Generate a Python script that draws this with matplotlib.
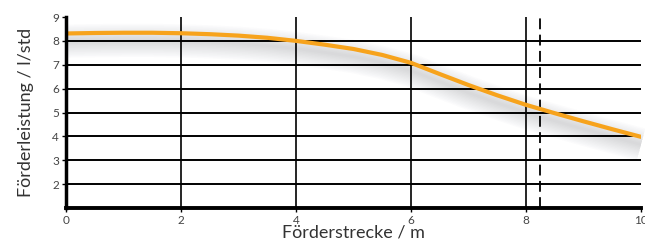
import matplotlib
matplotlib.use("Agg")
import matplotlib.pyplot as plt
import matplotlib.transforms as mtransforms

# data
x_km = [0.0, 0.5, 1.0, 1.5, 2.0, 2.5, 3.0, 3.5, 4.0, 4.5, 5.0,
        5.5, 6.0, 6.5, 7.0, 7.5, 8.0, 8.5, 9.0, 9.5, 10.0]
flow = [8.31, 8.33, 8.34, 8.34, 8.32, 8.28, 8.22, 8.13, 8.00, 7.84, 7.66,
        7.41, 7.08, 6.61, 6.15, 5.72, 5.32, 4.97, 4.63, 4.30, 3.98]
x_ticks = [0, 2, 4, 6, 8, 10]
y_ticks = [2, 3, 4, 5, 6, 7, 8, 9]
marker_x = 8.25

plt.rcParams['font.family'] = ['Lato', 'DejaVu Sans']

fig = plt.figure(figsize=(6.45, 2.46), dpi=100)
ax = fig.add_axes([66/645, 38/246, (641-66)/645, (229-38)/246])
ax.set_xlim(0, 10)
ax.set_ylim(1, 9)

# grid
for yv in y_ticks[:-1]:
    ax.axhline(yv, color='black', lw=1.4, zorder=3)
for xv in x_ticks[1:-1]:
    ax.axvline(xv, color='black', lw=1.2, zorder=3)
ax.axvline(marker_x, color='black', lw=1.3, ls=(0, (6, 3)), zorder=3)

# soft shadow below the curve
layers = 12
for i in range(layers):
    lw = 2 + i * 2.0
    tr = mtransforms.offset_copy(ax.transData, fig=fig, x=0, y=-5.5, units='points')
    ax.plot(x_km, flow, color='#5e6167', lw=lw, alpha=0.018, transform=tr,
            solid_capstyle='butt', zorder=2, clip_on=False)

ax.plot(x_km, flow, color='#f7a31c', lw=3.0, solid_capstyle='round', zorder=4)

for s in ['top', 'right']:
    ax.spines[s].set_visible(False)
ax.spines['left'].set_linewidth(2.5)
ax.spines['bottom'].set_linewidth(2.8)
ax.spines['left'].set_zorder(5)
ax.spines['bottom'].set_zorder(5)

ax.set_xticks(x_ticks)
ax.set_xticklabels([str(v) for v in x_ticks])
ax.set_yticks(y_ticks)
ax.set_yticklabels([str(v) for v in y_ticks])
ax.tick_params(axis='both', length=3, width=1, labelsize=8.5, color='black',
               labelcolor='#444444', pad=2)

ax.set_xlabel('Förderstrecke / m', fontsize=13, color='#333333', labelpad=-1)
ax.set_ylabel('Förderleistung / l/std', fontsize=13, color='#333333', labelpad=13)

fig.savefig('out.png', dpi=100)
